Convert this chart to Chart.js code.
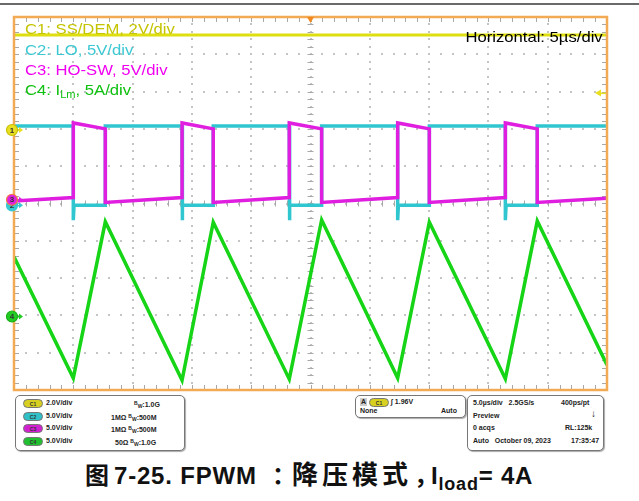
<!DOCTYPE html>
<html><head><meta charset="utf-8">
<script src="https://cdn.jsdelivr.net/npm/chart.js@4.4.1/dist/chart.umd.min.js"></script>
<style>
html,body{margin:0;padding:0;background:#fff;width:639px;height:501px;overflow:hidden;font-family:"Liberation Sans",Arial,sans-serif;}
#topline{position:absolute;left:0;top:3px;width:639px;height:2px;background:#6a6a6a;}
#wrap{position:absolute;left:0;top:0;width:639px;height:393px;}
.lbl{position:absolute;font-size:15px;white-space:nowrap;line-height:15px;transform:scaleX(1.11);transform-origin:left center;}
.lbl sub{font-size:10px;vertical-align:-3px;line-height:0;}
.box{position:absolute;border:1px solid #777;border-radius:5px;box-shadow:1px 1px 1px #aaa;background:#fff;}
.t{position:absolute;font-size:7px;font-weight:bold;white-space:nowrap;line-height:8px;color:#222;}
.t .bw{font-size:5px;vertical-align:2px;}
.t sub{font-size:5px;vertical-align:-1px;line-height:0;}
.pill{position:absolute;width:20px;height:9px;border-radius:5px;font-size:5px;line-height:8px;text-align:center;font-weight:bold;color:#333;border:1px solid #777;box-sizing:border-box;}
#cap{position:absolute;left:85px;top:458px;font-size:24px;font-weight:bold;white-space:nowrap;color:#111;font-family:"Liberation Sans","Noto Sans CJK SC",sans-serif;line-height:30px;}
#cap .ib{display:inline-block;}
#cap .zh{font-family:"Noto Sans CJK SC",sans-serif;}
#cap sub{font-size:18px;vertical-align:-6px;line-height:0;}
</style></head>
<body>
<div id="topline"></div>
<div id="wrap"><canvas id="c" width="639" height="393"></canvas></div>

<div class="lbl" style="left:25px;top:21px;color:#c4c400">C1: SS/DEM, 2V/div</div>
<div class="lbl" style="left:25px;top:42px;color:#3cc8d2">C2: LO, 5V/div</div>
<div class="lbl" style="left:25px;top:62px;color:#f000f0">C3: HO-SW, 5V/div</div>
<div class="lbl" style="left:25px;top:82px;color:#10c010">C4: I<sub>Lm</sub>, 5A/div</div>
<div class="lbl" style="right:36px;top:29px;color:#000;transform-origin:right center">Horizontal: 5µs/div</div>

<div class="box" style="left:15px;top:395px;width:168px;height:54px;">
  <div class="pill" style="left:7px;top:3px;background:#d8d020">C1</div><div class="t" style="left:30px;top:3px">2.0V/div</div><div class="t" style="left:118px;top:3px"><span class="bw">B</span><sub>W</sub>:1.0G</div>
  <div class="pill" style="left:7px;top:16px;background:#30c0c8">C2</div><div class="t" style="left:30px;top:16px">5.0V/div</div><div class="t" style="left:95px;top:16px">1MΩ&nbsp;<span class="bw">B</span><sub>W</sub>:500M</div>
  <div class="pill" style="left:7px;top:28px;background:#d020d0">C3</div><div class="t" style="left:30px;top:28px">5.0V/div</div><div class="t" style="left:95px;top:28px">1MΩ&nbsp;<span class="bw">B</span><sub>W</sub>:500M</div>
  <div class="pill" style="left:7px;top:41px;background:#20c030">C4</div><div class="t" style="left:30px;top:41px">5.0V/div</div><div class="t" style="left:99px;top:41px">50Ω&nbsp;<span class="bw">B</span><sub>W</sub>:1.0G</div>
</div>
<div class="box" style="left:355px;top:395px;width:109px;height:21px;">
  <div class="t" style="left:4px;top:2px;background:#ccc;padding:0 1px">A</div>
  <div class="pill" style="left:13px;top:2px;background:#d8d020">C1</div>
  <div class="t" style="left:35px;top:2px">∫ 1.96V</div>
  <div class="t" style="left:4px;top:11px">None</div>
  <div class="t" style="left:85px;top:11px">Auto</div>
</div>
<div class="box" style="left:467px;top:395px;width:135px;height:54px;">
  <div class="t" style="left:5px;top:3px">5.0µs/div&nbsp;&nbsp;&nbsp;2.5GS/s</div><div class="t" style="left:93px;top:3px">400ps/pt</div>
  <div class="t" style="left:5px;top:16px">Preview</div><div class="t" style="left:123px;top:14px;font-size:10px">↓</div>
  <div class="t" style="left:5px;top:28px">0 acqs</div><div class="t" style="left:97px;top:28px">RL:125k</div>
  <div class="t" style="left:5px;top:41px">Auto&nbsp;&nbsp;&nbsp;October 09, 2023</div><div class="t" style="left:103px;top:41px">17:35:47</div>
</div>

<div id="cap"><span class="ib zh" style="width:29px">图</span><span class="ib" style="width:158px;letter-spacing:0.8px">7-25. FPWM</span><span class="ib zh" style="width:20px">：</span><span class="ib zh" style="width:122px;font-size:26px;letter-spacing:4px">降压模式</span><span class="ib zh" style="width:17px">，</span><span style="letter-spacing:0.8px">I<sub>load</sub>= 4A</span></div>

<script>
// time axis in µs (10 div x 5 µs/div), vertical axis in screen divisions (center = 0)
const timeRange = [0, 50];
const divRange = [-5, 5];
const majorTimeStep = 5;   // µs per division
const majorDivStep = 1;

// C1 SS/DEM (divisions)
const c1Points = [[0, 4.52], [50, 4.52]];
// C2 LO (divisions)
const c2Points = [
  [0, 2.08], [5.0, 2.08], [5.0, -0.45], [5.06, -0.05], [7.7, -0.05], [7.7, 2.08],
  [14.17, 2.08], [14.17, -0.45], [14.23, -0.05], [16.8, -0.05], [16.8, 2.08],
  [23.21, 2.08], [23.21, -0.45], [23.27, -0.05], [25.94, -0.05], [25.94, 2.08],
  [32.35, 2.08], [32.35, -0.45], [32.41, -0.05], [35.02, -0.05], [35.02, 2.08],
  [41.43, 2.08], [41.43, -0.45], [41.49, -0.05], [44.12, -0.05], [44.12, 2.08],
  [50, 2.08]
];
// C3 HO-SW (divisions)
const c3Points = [
  [0, 0.07], [5.0, 0.16], [5.0, 2.16], [7.7, 2.0], [7.7, 0.03],
  [14.17, 0.16], [14.17, 2.16], [16.8, 2.0], [16.8, 0.03],
  [23.21, 0.16], [23.21, 2.16], [25.94, 2.0], [25.94, 0.03],
  [32.35, 0.16], [32.35, 2.16], [35.02, 2.0], [35.02, 0.03],
  [41.43, 0.16], [41.43, 2.16], [44.12, 2.0], [44.12, 0.03],
  [50, 0.14]
];
// C4 I_Lm (divisions)
const c4Points = [
  [0, -1.43], [5.0, -4.68], [7.7, -0.49], [14.17, -4.74], [16.8, -0.50],
  [23.21, -4.71], [25.94, -0.44], [32.35, -4.68], [35.02, -0.50],
  [41.43, -4.70], [44.12, -0.47], [50, -4.33]
];
// channel ground markers (divisions) and trigger
const groundMarkers = [
  {label: '2', y: -0.05, fill: '#38c8d0', stroke: '#38c8d0'},
  {label: '1', y: 1.97, fill: '#e8e020', stroke: '#c8c000'},
  {label: '3', y: 0.1, fill: '#e020e0', stroke: '#f08040'},
  {label: '4', y: -3.03, fill: '#22cc22', stroke: '#18b018'}
];
const triggerLevel = 2.96;
const triggerTime = 25;

const toXY = a => a.map(p => ({x: p[0], y: p[1]}));

const scopePlugin = {
  id: 'scope',
  beforeDatasetsDraw(chart) {
    const {ctx, chartArea: a, scales: {x, y}} = chart;
    ctx.save();
    ctx.fillStyle = '#fff';
    ctx.fillRect(a.left, a.top, a.right - a.left, a.bottom - a.top);
    // dotted grid
    ctx.fillStyle = '#c4c4c4';
    for (let t = timeRange[0]; t <= timeRange[1] + 1e-9; t += majorTimeStep) {
      const px = Math.round(x.getPixelForValue(t));
      for (let d = divRange[0]; d <= divRange[1] + 1e-9; d += majorDivStep / 5) {
        ctx.fillRect(px - 1, Math.round(y.getPixelForValue(d)) - 1, 2, 2);
      }
    }
    for (let d = divRange[0]; d <= divRange[1] + 1e-9; d += majorDivStep) {
      const py = Math.round(y.getPixelForValue(d));
      for (let t = timeRange[0]; t <= timeRange[1] + 1e-9; t += majorTimeStep / 5) {
        ctx.fillRect(Math.round(x.getPixelForValue(t)) - 1, py - 1, 2, 2);
      }
    }
    // ticks on borders and center lines
    ctx.strokeStyle = '#a8a8a8';
    ctx.lineWidth = 1;
    ctx.beginPath();
    const cx = x.getPixelForValue((timeRange[0] + timeRange[1]) / 2);
    const cy = y.getPixelForValue(0);
    for (let t = timeRange[0]; t <= timeRange[1] + 1e-9; t += majorTimeStep / 5) {
      const px = Math.round(x.getPixelForValue(t)) + 0.5;
      ctx.moveTo(px, a.top); ctx.lineTo(px, a.top + 5);
      ctx.moveTo(px, a.bottom); ctx.lineTo(px, a.bottom - 5);
      ctx.moveTo(px, cy - 3); ctx.lineTo(px, cy + 3);
    }
    for (let d = divRange[0]; d <= divRange[1] + 1e-9; d += majorDivStep / 5) {
      const py = Math.round(y.getPixelForValue(d)) + 0.5;
      ctx.moveTo(a.left, py); ctx.lineTo(a.left + 5, py);
      ctx.moveTo(a.right, py); ctx.lineTo(a.right - 5, py);
      ctx.moveTo(cx - 3, py); ctx.lineTo(cx + 3, py);
    }
    ctx.stroke();
    ctx.restore();
  },
  afterDatasetsDraw(chart) {
    const {ctx, chartArea: a, scales: {x, y}} = chart;
    ctx.save();
    // frame
    ctx.strokeStyle = '#f2aa55';
    ctx.lineWidth = 2.5;
    ctx.strokeRect(a.left, a.top, a.right - a.left, a.bottom - a.top);
    // trigger time marker
    const tx = x.getPixelForValue(triggerTime);
    ctx.fillStyle = '#f08a20';
    ctx.beginPath();
    ctx.moveTo(tx - 3.5, a.top); ctx.lineTo(tx + 3.5, a.top); ctx.lineTo(tx, a.top + 6); ctx.closePath(); ctx.fill();
    // trigger level marker
    const ty = y.getPixelForValue(triggerLevel);
    ctx.fillStyle = '#e8e020';
    ctx.beginPath();
    ctx.moveTo(a.right - 12, ty); ctx.lineTo(a.right - 6, ty - 3.5); ctx.lineTo(a.right - 6, ty + 3.5); ctx.closePath(); ctx.fill();
    ctx.fillRect(a.right - 7, ty - 0.5, 6, 1.5);
    // ground markers
    groundMarkers.forEach(m => {
      const py = y.getPixelForValue(m.y);
      const mx = a.left - 2;
      ctx.fillStyle = m.fill;
      ctx.beginPath();
      ctx.moveTo(mx + 11, py); ctx.lineTo(mx + 7, py - 3); ctx.lineTo(mx + 7, py + 3); ctx.closePath(); ctx.fill();
      ctx.fillRect(mx + 4, py - 0.5, 5, 1.5);
      ctx.beginPath();
      ctx.arc(mx, py, 5.5, 0, Math.PI * 2);
      ctx.fill();
      ctx.lineWidth = 1.2;
      ctx.strokeStyle = m.stroke;
      ctx.stroke();
      ctx.fillStyle = '#333';
      ctx.font = 'bold 8px "Liberation Sans", Arial';
      ctx.textAlign = 'center';
      ctx.textBaseline = 'middle';
      ctx.fillText(m.label, mx, py + 0.5);
    });
    ctx.restore();
  }
};

new Chart(document.getElementById('c'), {
  type: 'scatter',
  data: {
    datasets: [
      {label: 'C1', data: toXY(c1Points), borderColor: '#dede10', borderWidth: 3, order: 1},
      {label: 'C4', data: toXY(c4Points), borderColor: '#16d416', borderWidth: 3.5, order: 2},
      {label: 'C3', data: toXY(c3Points), borderColor: '#e01ee0', borderWidth: 3.5, order: 3},
      {label: 'C2', data: toXY(c2Points), borderColor: '#30c6cf', borderWidth: 3.5, order: 4}
    ].map(ds => Object.assign(ds, {showLine: true, pointRadius: 0, tension: 0, borderJoinStyle: 'miter', clip: 0}))
  },
  options: {
    responsive: false,
    animation: false,
    events: [],
    layout: {padding: {left: 14, top: 17, right: 32, bottom: 3}},
    plugins: {legend: {display: false}, tooltip: {enabled: false}},
    scales: {
      x: {type: 'linear', min: timeRange[0], max: timeRange[1], display: false},
      y: {type: 'linear', min: divRange[0], max: divRange[1], display: false}
    }
  },
  plugins: [scopePlugin]
});
</script>
</body></html>
